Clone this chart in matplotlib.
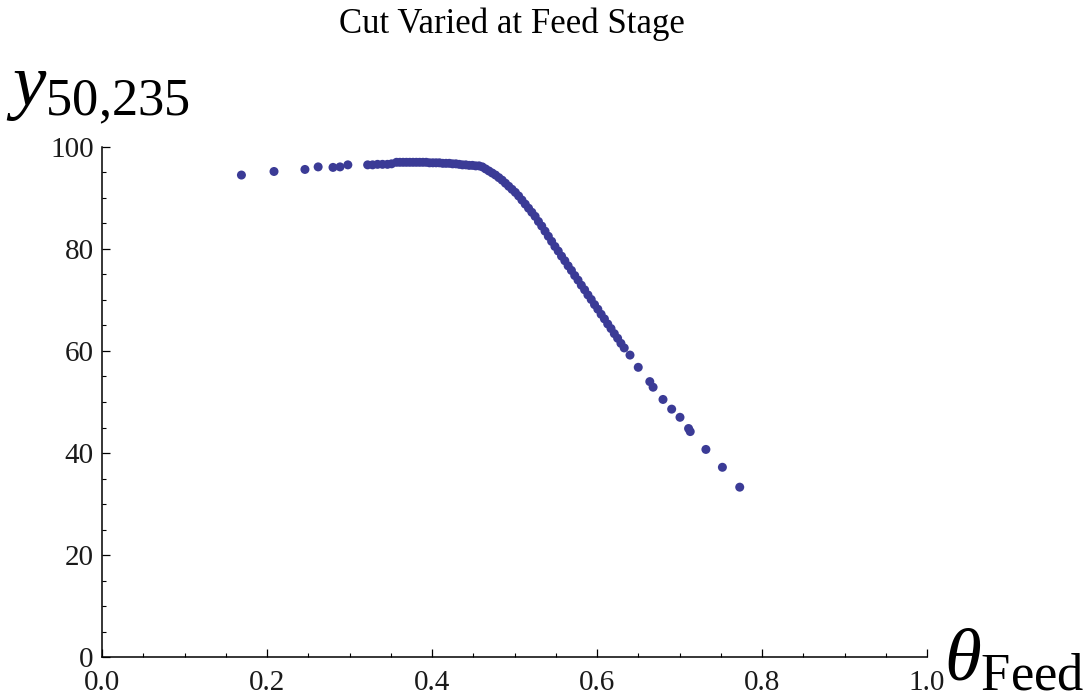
import matplotlib
matplotlib.use("Agg")
import matplotlib.pyplot as plt
from matplotlib.ticker import MultipleLocator, FixedLocator, FixedFormatter

plt.rcParams['font.family'] = ['Liberation Serif', 'DejaVu Serif']
plt.rcParams['mathtext.fontset'] = 'custom'
plt.rcParams['mathtext.rm'] = 'Liberation Serif'
plt.rcParams['mathtext.it'] = 'Liberation Serif:italic'
plt.rcParams['mathtext.bf'] = 'Liberation Serif:bold'

# ---- data ----
title_text = "Cut Varied at Feed Stage"
x_tick_values = [0.0, 0.2, 0.4, 0.6, 0.8, 1.0]
x_tick_labels = ["0.0", "0.2", "0.4", "0.6", "0.8", "1.0"]
y_tick_values = [0, 20, 40, 60, 80, 100]
y_tick_labels = ["0", "20", "40", "60", "80", "100"]

# sparse points on the left
theta_left = [0.169, 0.2085, 0.246, 0.262, 0.280, 0.2885, 0.298]
y_left = [94.5, 95.2, 95.6, 96.1, 96.0, 96.1, 96.5]

# small cluster before the plateau
theta_cluster = [0.322, 0.328, 0.334, 0.340, 0.346, 0.351]
y_cluster = [96.5, 96.5, 96.6, 96.6, 96.6, 96.7]

# plateau
theta_plateau = [0.357, 0.361, 0.365, 0.369, 0.373, 0.377, 0.381, 0.385,
                 0.389, 0.393, 0.397, 0.401, 0.405, 0.409, 0.413, 0.417,
                 0.421, 0.425, 0.429, 0.433, 0.437, 0.441, 0.445, 0.449,
                 0.453]
y_plateau = [97.0, 97.0, 97.0, 97.0, 97.0, 97.0, 97.0, 97.0,
             97.0, 97.0, 96.9, 96.9, 96.9, 96.9, 96.8, 96.8,
             96.8, 96.7, 96.7, 96.6, 96.5, 96.5, 96.4, 96.4,
             96.3]

# bend and dense decline
theta_decline = [0.457, 0.461, 0.465, 0.469, 0.473, 0.477, 0.481, 0.485,
                 0.489, 0.493, 0.497, 0.501, 0.505, 0.509, 0.513, 0.517,
                 0.521, 0.525, 0.529, 0.533, 0.537, 0.541, 0.545, 0.549,
                 0.553, 0.557, 0.561, 0.565, 0.569, 0.573, 0.577, 0.581,
                 0.585, 0.589, 0.593, 0.597, 0.601, 0.605, 0.609, 0.613,
                 0.617, 0.621, 0.625, 0.629, 0.633]
y_decline = [96.3, 96.1, 95.7, 95.3, 94.9, 94.5, 94.0, 93.5,
             92.9, 92.3, 91.7, 91.1, 90.4, 89.6, 88.8, 88.0,
             87.2, 86.4, 85.4, 84.5, 83.5, 82.5, 81.5, 80.5,
             79.6, 78.6, 77.7, 76.7, 75.8, 74.8, 73.9, 72.9,
             72.0, 71.0, 70.1, 69.1, 68.2, 67.2, 66.3, 65.3,
             64.4, 63.4, 62.5, 61.5, 60.6]

# sparse tail
theta_tail = [0.640, 0.650, 0.664, 0.668, 0.680, 0.6905, 0.7006, 0.711,
              0.713, 0.732, 0.752, 0.773]
y_tail = [59.2, 56.8, 54.0, 52.9, 50.5, 48.6, 47.0, 44.8,
          44.2, 40.7, 37.2, 33.3]

point_color = "#3b3b96"

fig = plt.figure(figsize=(10.86, 6.98), dpi=100)
ax = fig.add_axes([102 / 1086, 1 - 657 / 698, 825 / 1086, 510 / 698])

for xs, ys in [(theta_left, y_left), (theta_cluster, y_cluster),
               (theta_plateau, y_plateau), (theta_decline, y_decline),
               (theta_tail, y_tail)]:
    ax.scatter(xs, ys, s=42, color=point_color, edgecolors='none', zorder=3)

ax.set_xlim(0, 1)
ax.set_ylim(0, 100)
for side in ['top', 'right']:
    ax.spines[side].set_visible(False)
for side in ['left', 'bottom']:
    ax.spines[side].set_linewidth(1.1)

ax.xaxis.set_major_locator(FixedLocator(x_tick_values))
ax.xaxis.set_major_formatter(FixedFormatter(x_tick_labels))
ax.yaxis.set_major_locator(FixedLocator(y_tick_values))
ax.yaxis.set_major_formatter(FixedFormatter(y_tick_labels))
ax.xaxis.set_minor_locator(MultipleLocator(0.05))
ax.yaxis.set_minor_locator(MultipleLocator(5))

ax.tick_params(which='major', direction='in', length=5.5, width=0.9,
               labelsize=21, colors='black', labelcolor='#1a1a1a')
ax.tick_params(which='minor', direction='in', length=3.2, width=0.8)
ax.tick_params(axis='x', which='major', pad=9)
ax.tick_params(axis='y', which='major', pad=6)

fig.text(512 / 1086, 1 - 33 / 698, title_text, ha='center', va='baseline',
         fontsize=25, color='black')
fig.text(6 / 1086, 1 - 106 / 698, r'$y_{50{,}235}$', ha='left', va='baseline',
         fontsize=54, color='black')
fig.text(944 / 1086, 1 - 680 / 698, r'$\theta_{\mathrm{Feed}}$', ha='left',
         va='baseline', fontsize=54, color='black')

fig.savefig("out.png", dpi=100, facecolor='white')
